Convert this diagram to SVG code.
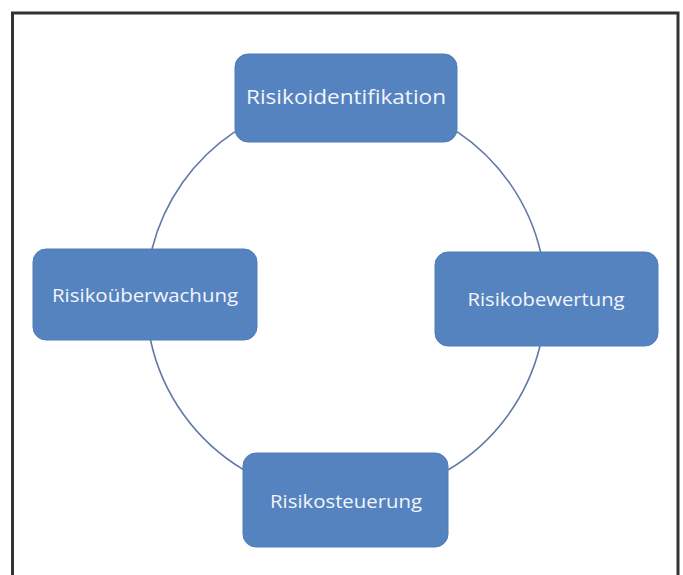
<svg xmlns="http://www.w3.org/2000/svg" width="683" height="575" viewBox="0 0 683 575">
<style>
.box{fill:#5583bf;stroke:#4f7cb8;stroke-width:1}
.lbl{font-family:"Open Sans","Liberation Sans",sans-serif;fill:#f2f5fb;text-anchor:middle}
.arc{fill:none;stroke:#6278a8;stroke-width:1.6}
</style>
<rect x="0" y="0" width="683" height="575" fill="#ffffff"/>
<rect x="12.5" y="13" width="665.5" height="600" fill="none" stroke="#333333" stroke-width="3"/>
<g id="connectors">
<path class="arc" d="M 457 131.6 A 200 200 0 0 1 540.6 252"/>
<path class="arc" d="M 540 346 A 200 200 0 0 1 448 470"/>
<path class="arc" d="M 243 469.4 A 200 200 0 0 1 150.5 340"/>
<path class="arc" d="M 152 249 A 200 200 0 0 1 235 131.6"/>
</g>
<g id="risikoidentifikation">
<rect class="box" x="235" y="54" width="222" height="88" rx="13"/>
<text class="lbl" x="346" y="104" font-size="20.5" textLength="200" lengthAdjust="spacingAndGlyphs">Risikoidentifikation</text>
</g>
<g id="risikobewertung">
<rect class="box" x="435" y="252" width="223" height="94" rx="13"/>
<text class="lbl" x="546" y="305.5" font-size="19" textLength="157" lengthAdjust="spacingAndGlyphs">Risikobewertung</text>
</g>
<g id="risikosteuerung">
<rect class="box" x="243" y="453" width="205" height="94" rx="13"/>
<text class="lbl" x="346" y="508" font-size="19" textLength="152" lengthAdjust="spacingAndGlyphs">Risikosteuerung</text>
</g>
<g id="risikoueberwachung">
<rect class="box" x="33" y="249" width="224" height="91" rx="13"/>
<text class="lbl" x="145" y="302" font-size="19" textLength="186" lengthAdjust="spacingAndGlyphs">Risikoüberwachung</text>
</g>
</svg>
